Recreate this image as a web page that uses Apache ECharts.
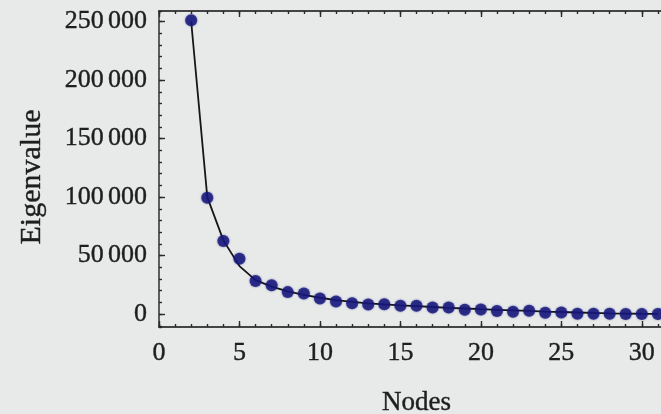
<!DOCTYPE html>
<html>
<head>
<meta charset="utf-8">
<script src="https://cdn.jsdelivr.net/npm/echarts@6/dist/echarts.min.js"></script>
<style>
  html, body { margin: 0; padding: 0; background: #e7eae9; }
  #chart { width: 661px; height: 414px; }
</style>
</head>
<body>
<div id="chart"></div>
<script>
// measured points
var nodes = [2, 3, 4, 5, 6, 7, 8, 9, 10, 11, 12, 13, 14, 15, 16, 17, 18, 19, 20, 21, 22, 23, 24, 25, 26, 27, 28, 29, 30, 31];
var eigenvalues = [251000, 99500, 62500, 47300, 28300, 24600, 18800, 17600, 13400, 10800, 9200, 8300, 8500, 7100, 7100,
    5700, 5700, 3800, 4000, 2600, 2000, 2800, 1100, 1400, 400, 300, 250, 200, 200, 150];
// fitted curve, read at each node
var fitValues = [250000, 100000, 63000, 41000, 29000, 23500, 19500, 16500, 14000, 12000, 10500, 9200, 8300, 7500, 6800,
    6100, 5400, 4800, 4200, 3700, 3200, 2700, 2200, 1800, 1400, 1000, 700, 500, 300, 150];

var font = 'Liberation Serif';
var ink = '#1e1e1e';

function pairs(xs, ys) {
    var out = [];
    for (var i = 0; i < xs.length; i++) out.push([xs[i], ys[i]]);
    return out;
}

// 250000 -> "250 000" with a narrow space
function fmt(v) {
    var s = String(v);
    if (s.length > 3) s = s.slice(0, s.length - 3) + '\u2006' + s.slice(s.length - 3);
    return s;
}

var frameLine = { onZero: false, lineStyle: { color: '#3a3a3a', width: 1.6 } };
// slightly heavier strokes, like the reference
var textBase = { fontFamily: font, color: ink, textBorderColor: ink, textBorderWidth: 0.4 };

function xAxisDef(pos, step, tickLen, labels) {
    return {
        type: 'value', position: pos, min: 0, max: 32, interval: step,
        axisLine: frameLine,
        axisTick: { show: true, inside: true, length: tickLen, lineStyle: { color: '#2a2a2a', width: 1.4 } },
        axisLabel: labels ? Object.assign({ show: true, margin: 13, fontSize: 26, showMaxLabel: false }, textBase)
            : { show: false },
        splitLine: { show: false }
    };
}

var myChart = echarts.init(document.getElementById('chart'));
var option = {
    backgroundColor: '#e7eae9',
    animation: false,
    // plot runs past the right edge, as in the cropped original
    grid: { left: 159, top: 11, width: 515, bottom: 87, outerBoundsMode: 'none' },
    xAxis: [
        Object.assign(xAxisDef('bottom', 5, 6, true), {
            name: 'Nodes', nameLocation: 'middle', nameGap: 62,
            nameTextStyle: Object.assign({ fontSize: 27 }, textBase)
        }),
        xAxisDef('bottom', 1, 3, false),
        xAxisDef('top', 5, 6, false),
        xAxisDef('top', 1, 3, false)
    ],
    yAxis: [
        {
            type: 'value', position: 'left', min: -11000, max: 259000, splitNumber: 5,
            name: 'Eigenvalue', nameLocation: 'middle', nameGap: 112,
            nameTextStyle: Object.assign({ fontSize: 30, padding: [0, 16, 0, 0] }, textBase),
            axisLine: frameLine,
            axisTick: { show: true, inside: true, length: 6, lineStyle: { color: '#2a2a2a', width: 1.4 } },
            axisLabel: Object.assign({
                margin: 12, fontSize: 26,
                showMinLabel: false, showMaxLabel: false,
                formatter: fmt
            }, textBase),
            splitLine: { show: false }
        },
        {
            type: 'value', position: 'left', min: -11000, max: 259000, splitNumber: 27,
            axisLine: { show: false },
            axisTick: { show: true, inside: true, length: 3, lineStyle: { color: '#2a2a2a', width: 1.4 } },
            axisLabel: { show: false },
            splitLine: { show: false }
        }
    ],
    series: [
        {
            name: 'fit', type: 'line', xAxisIndex: 0, yAxisIndex: 0,
            data: pairs(nodes, fitValues),
            showSymbol: false, smooth: false,
            lineStyle: { color: '#161616', width: 1.8 },
            z: 2
        },
        {
            name: 'eigenvalues', type: 'scatter', xAxisIndex: 0, yAxisIndex: 0,
            data: pairs(nodes, eigenvalues),
            symbolSize: 12,
            itemStyle: { color: '#17177c', shadowBlur: 2, shadowColor: 'rgba(20,20,120,0.7)' },
            z: 3
        }
    ]
};
myChart.setOption(option);
</script>
</body>
</html>
